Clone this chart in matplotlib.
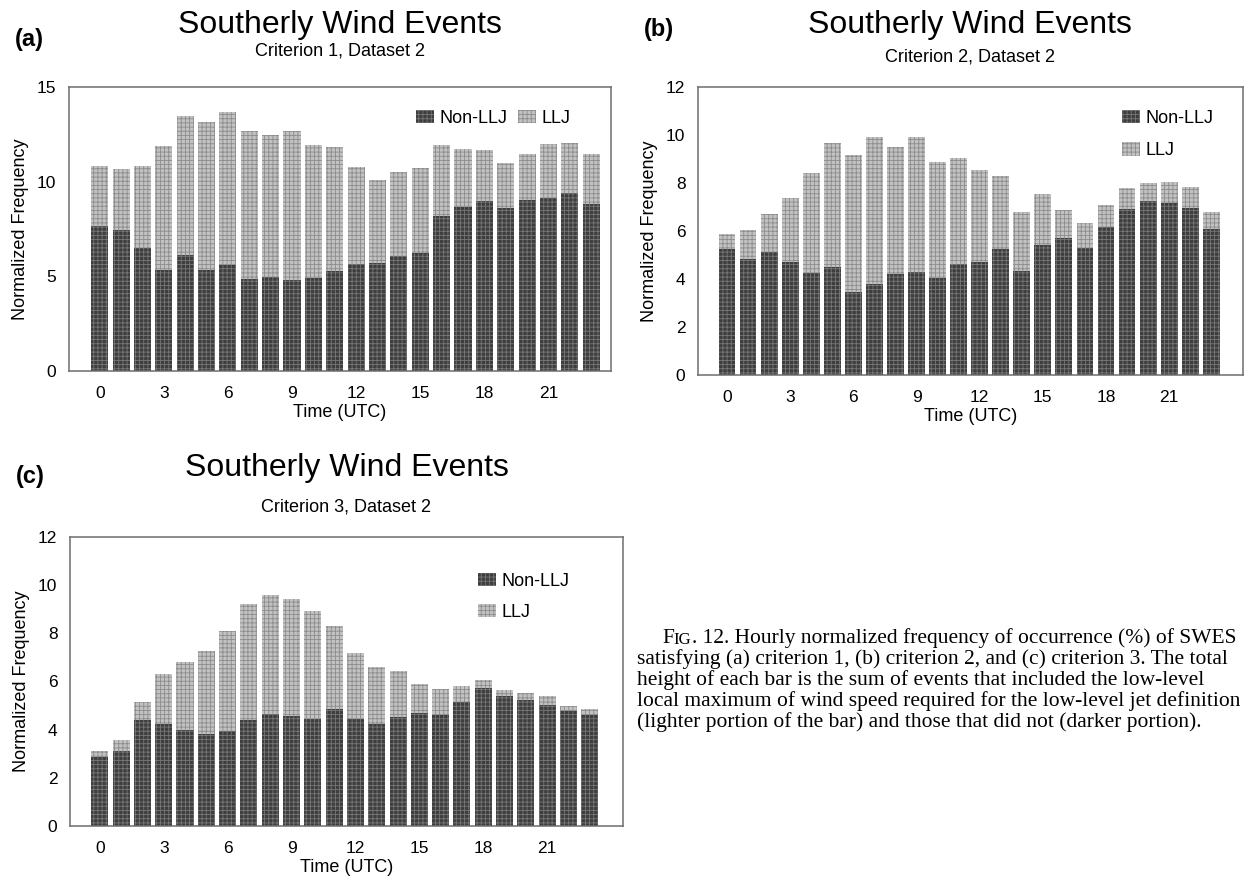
import matplotlib
matplotlib.use('Agg')
import matplotlib.pyplot as plt
from matplotlib.patches import Patch
from matplotlib.transforms import IdentityTransform

# hourly normalized frequency (%)
hours = list(range(24))

a_non_llj = [7.66, 7.45, 6.49, 5.33, 6.12, 5.36, 5.59, 4.85, 4.98, 4.83, 4.92, 5.29,
             5.63, 5.68, 6.07, 6.21, 8.19, 8.65, 9.00, 8.61, 9.03, 9.14, 9.42, 8.84]
a_llj = [3.17, 3.21, 4.34, 6.58, 7.33, 7.79, 8.09, 7.84, 7.50, 7.86, 7.01, 6.55,
         5.13, 4.40, 4.46, 4.52, 3.76, 3.10, 2.66, 2.37, 2.44, 2.86, 2.61, 2.61]

b_non_llj = [5.26, 4.84, 5.12, 4.70, 4.24, 4.51, 3.45, 3.77, 4.21, 4.30, 4.05, 4.63,
             4.71, 5.23, 4.35, 5.40, 5.69, 5.31, 6.15, 6.91, 7.26, 7.18, 6.94, 6.08]
b_llj = [0.61, 1.21, 1.58, 2.69, 4.19, 5.16, 5.73, 6.15, 5.30, 5.63, 4.84, 4.42,
         3.83, 3.07, 2.45, 2.14, 1.17, 1.03, 0.93, 0.89, 0.75, 0.87, 0.89, 0.71]

c_non_llj = [2.87, 3.10, 4.39, 4.25, 3.97, 3.83, 3.93, 4.39, 4.64, 4.55, 4.44, 4.84,
             4.44, 4.22, 4.51, 4.68, 4.61, 5.13, 5.74, 5.40, 5.23, 5.02, 4.78, 4.61]
c_llj = [0.23, 0.46, 0.74, 2.05, 2.85, 3.42, 4.15, 4.81, 4.94, 4.89, 4.47, 3.48,
         2.73, 2.40, 1.94, 1.23, 1.09, 0.67, 0.34, 0.23, 0.31, 0.36, 0.20, 0.23]

x_ticks = [0, 3, 6, 9, 12, 15, 18, 21]

caption_first = '. 12. Hourly normalized frequency of occurrence (%) of SWES'
caption_lines = [
    "satisfying (a) criterion 1, (b) criterion 2, and (c) criterion 3. The total",
    "height of each bar is the sum of events that included the low-level",
    "local maximum of wind speed required for the low-level jet definition",
    "(lighter portion of the bar) and those that did not (darker portion).",
]

plt.rcParams['font.family'] = ['Liberation Sans', 'DejaVu Sans']
plt.rcParams['hatch.linewidth'] = 0.6

DARK = '#3e3e3e'
DARK_HATCH = '#777777'
LIGHT = '#c2c2c2'
LIGHT_HATCH = '#8c8c8c'
SPINE = '#6e6e6e'
W, H = 1247, 880


def draw_panel(fig, rect, non_llj, llj, ymax, yticks, xlim, letter, crit,
               title_y, letter_y, sub_y, legend_kw):
    ax = fig.add_axes(rect)
    ax.bar(hours, non_llj, width=0.8, color=DARK, edgecolor=DARK_HATCH,
           linewidth=0, hatch='++++')
    ax.bar(hours, llj, bottom=non_llj, width=0.8, color=LIGHT,
           edgecolor=LIGHT_HATCH, linewidth=0, hatch='++++')

    ax.set_xlim(*xlim)
    ax.set_ylim(0, ymax)
    ax.set_xticks(x_ticks)
    ax.set_yticks(yticks)
    ax.tick_params(length=0, labelsize=12.5)
    ax.tick_params(axis='y', pad=9)
    ax.tick_params(axis='x', pad=11)
    for sp in ax.spines.values():
        sp.set_color(SPINE)
        sp.set_linewidth(1.1)
    ax.set_xlabel('Time (UTC)', fontsize=13, labelpad=2)
    ax.set_ylabel('Normalized Frequency', fontsize=13, labelpad=6)

    # titles above the box (y given in pixels from the top)
    cx = rect[0] + rect[2] / 2
    fig.text(cx, 1 - title_y / H, 'Southerly Wind Events', fontsize=23,
             ha='center', va='baseline')
    fig.text(cx, 1 - sub_y / H, f'Criterion {crit}, Dataset 2', fontsize=13,
             ha='center', va='baseline')
    fig.text(rect[0] - 0.043, 1 - letter_y / H, f'({letter})', fontsize=17,
             fontweight='bold', ha='left', va='baseline')

    handles = [Patch(facecolor=DARK, edgecolor=DARK_HATCH, linewidth=0, hatch='++++'),
               Patch(facecolor=LIGHT, edgecolor=LIGHT_HATCH, linewidth=0, hatch='++++')]
    ax.legend(handles, ['Non-LLJ', 'LLJ'], frameon=False, fontsize=13,
              handlelength=1.0, handleheight=0.75, handletextpad=0.3,
              borderaxespad=0, borderpad=0, loc='upper left', **legend_kw)
    return ax


fig = plt.figure(figsize=(W / 100, H / 100), dpi=100)

draw_panel(fig, [0.0553, 0.5784, 0.4347, 0.3227], a_non_llj, a_llj, 15, [0, 5, 10, 15],
           (-1.44, 23.93), 'a', 1, 33, 46, 56,
           dict(ncol=2, columnspacing=0.6, bbox_to_anchor=(0.64, 0.92)))

draw_panel(fig, [0.5597, 0.5739, 0.4370, 0.3273], b_non_llj, b_llj, 12, [0, 2, 4, 6, 8, 10, 12],
           (-1.38, 24.5), 'b', 2, 33, 36, 61,
           dict(ncol=1, labelspacing=0.85, bbox_to_anchor=(0.778, 0.92)))

draw_panel(fig, [0.0561, 0.0614, 0.4435, 0.3284], c_non_llj, c_llj, 12, [0, 2, 4, 6, 8, 10, 12],
           (-1.40, 24.56), 'c', 3, 476, 483, 511,
           dict(ncol=1, labelspacing=0.75, bbox_to_anchor=(0.738, 0.875)))

# caption, "FIG." set with small capitals
serif = ['Liberation Serif', 'DejaVu Serif']
cap_size = 15.5
t1 = fig.text(662 / W, 1 - 643 / H, 'F', family=serif, fontsize=cap_size, va='baseline')
fig.canvas.draw()
bb = t1.get_window_extent()
t2 = fig.text(bb.x1, bb.y0, 'IG', family=serif, fontsize=cap_size * 0.78,
              va='bottom', ha='left', transform=IdentityTransform())
fig.canvas.draw()
bb2 = t2.get_window_extent()
fig.text(bb2.x1, bb.y0, caption_first, family=serif, fontsize=cap_size,
         va='bottom', ha='left', transform=IdentityTransform())

for i, line in enumerate(caption_lines):
    fig.text(637 / W, 1 - (643 + 21 * (i + 1)) / H, line, family=serif,
             fontsize=cap_size, va='baseline')

plt.savefig('out.png', dpi=100)
